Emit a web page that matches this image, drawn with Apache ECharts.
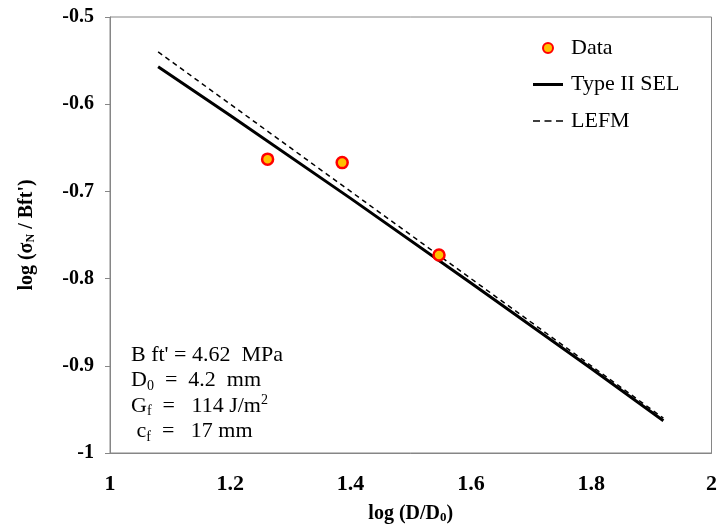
<!DOCTYPE html>
<html>
<head>
<meta charset="utf-8">
<script src="https://cdn.jsdelivr.net/npm/echarts@6/dist/echarts.min.js"></script>
<style>html,body{margin:0;padding:0;background:#fff}#c{width:720px;height:529px}</style>
</head>
<body>
<div id="c"></div>
<script>
// Data
const dataX = [1.262, 1.386, 1.547];
const dataY = [-0.663, -0.667, -0.773];
const selX = [1.08, 1.2, 1.4, 1.6, 1.8, 1.92];
const selY = [-0.557, -0.613, -0.708, -0.805, -0.903, -0.963];
const lefmX = [1.08, 1.2, 1.4, 1.6, 1.8, 1.92];
const lefmY = [-0.54, -0.60, -0.70, -0.80, -0.90, -0.96];
const xTicks = [1, 1.2, 1.4, 1.6, 1.8, 2];
const yTicks = [-1, -0.9, -0.8, -0.7, -0.6, -0.5];

const FONT = '"Liberation Serif", "Times New Roman", serif';
const zip = (a, b) => a.map((v, i) => [v, b[i]]);

const chart = echarts.init(document.getElementById('c'), null, {renderer: 'canvas'});
chart.setOption({
  animation: false,
  backgroundColor: '#fff',
  textStyle: {fontFamily: FONT},
  grid: {left: 110, right: 8, top: 17, bottom: 73, show: true, borderColor: '#868686', borderWidth: 1, backgroundColor: 'transparent'},
  xAxis: {
    type: 'value', min: xTicks[0], max: xTicks[xTicks.length - 1], interval: 0.2,
    axisLine: {lineStyle: {color: '#868686'}},
    axisTick: {show: false},
    splitLine: {show: false},
    axisLabel: {fontFamily: FONT, fontSize: 22, fontWeight: 'bold', color: '#000', margin: 20},
    name: 'log (D/D{s|0})',
    nameLocation: 'middle', nameGap: 50,
    nameTextStyle: {
      fontFamily: FONT, fontSize: 20, fontWeight: 'bold', color: '#000',
      rich: {s: {fontFamily: FONT, fontSize: 13, fontWeight: 'bold', color: '#000', verticalAlign: 'bottom', padding: [8, 0, 0, 0]}}
    }
  },
  yAxis: {
    type: 'value', min: yTicks[0], max: yTicks[yTicks.length - 1], interval: 0.1,
    axisLine: {show: true, lineStyle: {color: '#868686'}},
    axisTick: {show: true, inside: false, length: 5, lineStyle: {color: '#868686'}},
    splitLine: {show: false},
    axisLabel: {fontFamily: FONT, fontSize: 20, fontWeight: 'bold', color: '#000', margin: 16},
    name: 'log (σ{s|N} / Bft\')',
    nameLocation: 'middle', nameGap: 73, nameRotate: 90,
    nameTextStyle: {
      fontFamily: FONT, fontSize: 20, fontWeight: 'bold', color: '#000',
      rich: {s: {fontFamily: FONT, fontSize: 12, fontWeight: 'bold', color: '#000', verticalAlign: 'bottom', padding: [8, 0, 0, 0]}}
    }
  },
  legend: {
    orient: 'vertical', left: 528, top: 32, itemWidth: 30, itemHeight: 10, itemGap: 14.5,
    textStyle: {fontFamily: FONT, fontSize: 22, color: '#000', lineHeight: 21, padding: [0, 0, 0, 3]},
    data: [
      {name: 'Data', icon: 'circle', itemStyle: {color: '#FFC000', borderColor: '#FF0000', borderWidth: 2}},
      {name: 'Type II SEL', icon: 'path://M0,0L30,0L30,3L0,3Z', itemStyle: {color: '#000', borderWidth: 0}},
      {name: 'LEFM', icon: 'path://M0,0L7,0L7,1.5L0,1.5Z M11.5,0L18.5,0L18.5,1.5L11.5,1.5Z M23,0L30,0L30,1.5L23,1.5Z', itemStyle: {color: '#000', borderWidth: 0}}
    ]
  },
  series: [
    {
      name: 'Type II SEL', type: 'line', data: zip(selX, selY), showSymbol: false, symbol: 'none',
      lineStyle: {color: '#000', width: 3}, itemStyle: {color: '#000'}, z: 2
    },
    {
      name: 'LEFM', type: 'line', data: zip(lefmX, lefmY), showSymbol: false, symbol: 'none',
      lineStyle: {color: '#000', width: 1.5, type: [5, 4]}, itemStyle: {color: '#000'}, z: 2
    },
    {
      name: 'Data', type: 'scatter', data: zip(dataX, dataY), symbol: 'circle', symbolSize: 11,
      itemStyle: {color: '#FFC000', borderColor: '#FF0000', borderWidth: 2.5, opacity: 1}, z: 5
    }
  ],
  graphic: [
    {
      type: 'text', left: 131, top: 342,
      style: {
        text: "B ft' = 4.62  MPa\nD{s|0}  =  4.2  mm\nG{s|f}  =   114 J/m{p|2}\n c{s|f}  =   17 mm",
        fontFamily: FONT, fontSize: 22, fill: '#000', lineHeight: 25.5,
        rich: {
          s: {fontFamily: FONT, fontSize: 14, fill: '#000', verticalAlign: 'bottom', padding: [9, 0, 0, 0]},
          p: {fontFamily: FONT, fontSize: 14, fill: '#000', verticalAlign: 'top', padding: [0, 0, 8, 0]}
        }
      }
    }
  ]
});
</script>
</body>
</html>
